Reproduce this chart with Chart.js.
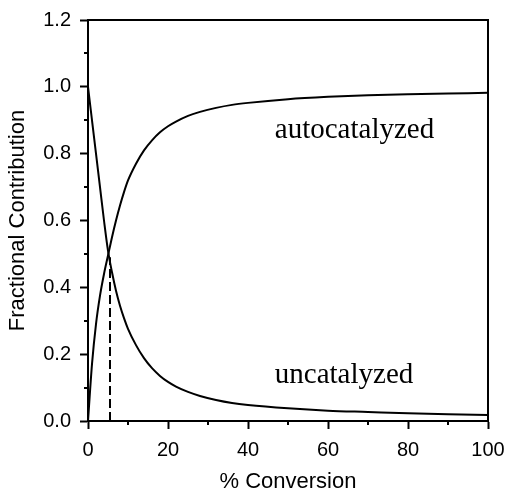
<!DOCTYPE html>
<html>
<head>
<meta charset="utf-8">
<script src="https://cdn.jsdelivr.net/npm/chart.js@4.4.1/dist/chart.umd.min.js"></script>
<style>
  html, body { margin: 0; padding: 0; background: #fff; }
  #wrap { width: 508px; height: 493px; position: relative; }
</style>
</head>
<body>
<div id="wrap"><canvas id="chart"></canvas></div>
<script>
// % conversion (x) and fractional contributions
const conversion = [0, 1, 2, 3, 4, 5, 6, 7, 8, 9, 10, 12, 14, 16, 18, 20, 22, 25, 28, 32, 36, 40, 50, 60, 70, 80, 90, 100];
const autocatalyzed = [0, 0.17, 0.29, 0.375, 0.44, 0.495, 0.55, 0.60, 0.645, 0.685, 0.72, 0.77, 0.81, 0.84, 0.864, 0.882, 0.896, 0.913, 0.925, 0.937, 0.946, 0.952, 0.963, 0.970, 0.975, 0.978, 0.980, 0.982];
const uncatalyzed = [1.0, 0.90, 0.80, 0.70, 0.60, 0.51, 0.445, 0.39, 0.345, 0.308, 0.276, 0.227, 0.188, 0.158, 0.135, 0.117, 0.103, 0.087, 0.075, 0.063, 0.054, 0.048, 0.038, 0.031, 0.027, 0.023, 0.020, 0.018];
// crossover marker (dashed drop line)
const crossX = [5.5, 5.5];
const crossY = [0, 0.49];

const xTickLabels = ['0', '20', '40', '60', '80', '100'];
const yTickLabels = ['0.0', '0.2', '0.4', '0.6', '0.8', '1.0', '1.2'];

// curve labels, in data coordinates (baseline-left)
const curveLabels = [
  { text: 'autocatalyzed', x: 46.7, y: 0.847 },
  { text: 'uncatalyzed', x: 46.7, y: 0.114 }
];

const toPts = (xs, ys) => xs.map((x, i) => ({ x: x, y: ys[i] }));

// minor ticks (every other tick) are drawn short here; major ones by Chart.js
const minorTicks = {
  id: 'minorTicks',
  afterDraw(chart) {
    const c = chart.ctx;
    const { left, right, top, bottom } = chart.chartArea;
    c.save();
    c.strokeStyle = '#000';
    c.lineWidth = 2;
    const xs = chart.scales.x, ys = chart.scales.y;
    xs.ticks.forEach((t, i) => {
      if (i % 2 === 1) {
        const px = Math.round(xs.getPixelForValue(t.value));
        c.beginPath(); c.moveTo(px, bottom); c.lineTo(px, bottom + 4); c.stroke();
      }
    });
    ys.ticks.forEach((t, i) => {
      if (i % 2 === 1) {
        const py = Math.round(ys.getPixelForValue(t.value));
        c.beginPath(); c.moveTo(left, py); c.lineTo(left - 4, py); c.stroke();
      }
    });
    // frame top + right
    c.beginPath();
    c.moveTo(left, top); c.lineTo(right, top); c.lineTo(right, bottom);
    c.stroke();
    // curve labels
    c.fillStyle = '#000';
    c.font = '29px "Liberation Serif", "Times New Roman", serif';
    c.textAlign = 'left';
    c.textBaseline = 'alphabetic';
    curveLabels.forEach(l => {
      c.fillText(l.text, xs.getPixelForValue(l.x), ys.getPixelForValue(l.y));
    });
    c.restore();
  }
};

const tickFont = { family: '"Liberation Sans", Arial, sans-serif', size: 20 };
const titleFont = { family: '"Liberation Sans", Arial, sans-serif', size: 22 };

new Chart(document.getElementById('chart'), {
  type: 'line',
  data: {
    datasets: [
      { label: 'autocatalyzed', data: toPts(conversion, autocatalyzed), borderColor: '#000', borderWidth: 2, pointRadius: 0, fill: false, cubicInterpolationMode: 'monotone' },
      { label: 'uncatalyzed', data: toPts(conversion, uncatalyzed), borderColor: '#000', borderWidth: 2, pointRadius: 0, fill: false, cubicInterpolationMode: 'monotone' },
      { label: 'crossover', data: toPts(crossX, crossY), borderColor: '#000', borderWidth: 2, borderDash: [9, 4], pointRadius: 0, fill: false }
    ]
  },
  options: {
    responsive: true,
    maintainAspectRatio: false,
    animation: false,
    layout: { padding: { left: 0, right: 20, top: 20, bottom: 0 } },
    plugins: { legend: { display: false }, tooltip: { enabled: false } },
    scales: {
      x: {
        type: 'linear', min: 0, max: 100,
        border: { display: true, color: '#000', width: 2 },
        grid: { display: true, drawOnChartArea: false, tickLength: 8, tickWidth: 2, tickColor: ctx => ctx.index % 2 ? 'rgba(0,0,0,0)' : '#000' },
        ticks: { stepSize: 10, color: '#000', font: tickFont, padding: 9, maxRotation: 0, autoSkip: false,
          callback: (v, i) => i % 2 ? '' : xTickLabels[i / 2] },
        title: { display: true, text: '% Conversion', color: '#000', font: titleFont, padding: { top: 0, bottom: -2 } },
        afterFit: s => { s.height = 72; s.paddingLeft = 0; s.paddingRight = 0; }
      },
      y: {
        type: 'linear', min: 0, max: 1.2,
        border: { display: true, color: '#000', width: 2 },
        grid: { display: true, drawOnChartArea: false, tickLength: 8, tickWidth: 2, tickColor: ctx => ctx.index % 2 ? 'rgba(0,0,0,0)' : '#000' },
        ticks: { stepSize: 0.1, color: '#000', font: tickFont, padding: 9, autoSkip: false,
          callback: (v, i) => i % 2 ? '' : yTickLabels[i / 2] },
        title: { display: true, text: 'Fractional Contribution', color: '#000', font: titleFont, padding: { top: 5, bottom: 0 } },
        afterFit: s => { s.width = 88; s.paddingTop = 0; s.paddingBottom = 0; }
      }
    }
  },
  plugins: [minorTicks]
});
</script>
</body>
</html>
